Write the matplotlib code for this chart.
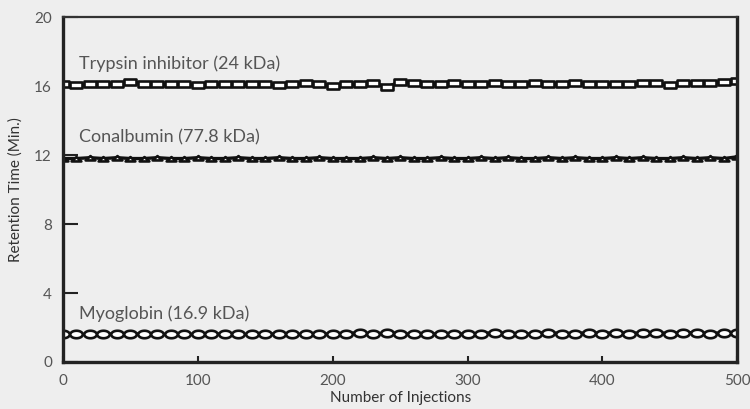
import matplotlib
matplotlib.use('Agg')
import matplotlib.pyplot as plt
from matplotlib.path import Path
import numpy as np

# injections, sampled every 10
injections = list(range(0, 501, 10))

trypsin = [16.1, 16.05, 16.1, 16.1, 16.15, 16.25, 16.15, 16.1, 16.1, 16.1,
           16.05, 16.1, 16.1, 16.1, 16.1, 16.1, 16.05, 16.1, 16.2, 16.15,
           16.0, 16.1, 16.1, 16.2, 15.95, 16.25, 16.2, 16.15, 16.15, 16.2,
           16.1, 16.15, 16.2, 16.15, 16.15, 16.2, 16.1, 16.15, 16.2, 16.15,
           16.1, 16.15, 16.1, 16.2, 16.2, 16.05, 16.2, 16.2, 16.2, 16.25, 16.3]
conalbumin = [11.8, 11.8, 11.85, 11.8, 11.85, 11.8, 11.8, 11.85, 11.8, 11.8,
              11.85, 11.8, 11.8, 11.85, 11.8, 11.8, 11.85, 11.8, 11.8, 11.85,
              11.8, 11.8, 11.8, 11.85, 11.8, 11.85, 11.8, 11.8, 11.85, 11.8,
              11.8, 11.85, 11.8, 11.85, 11.8, 11.8, 11.85, 11.8, 11.85, 11.8,
              11.8, 11.85, 11.8, 11.85, 11.8, 11.8, 11.85, 11.8, 11.85, 11.8, 11.9]
myoglobin = [1.6, 1.6, 1.6, 1.65, 1.6, 1.6, 1.65, 1.6, 1.6, 1.6,
             1.6, 1.65, 1.6, 1.6, 1.6, 1.65, 1.6, 1.6, 1.6, 1.65,
             1.6, 1.65, 1.7, 1.6, 1.7, 1.65, 1.6, 1.65, 1.6, 1.65,
             1.6, 1.65, 1.7, 1.65, 1.6, 1.65, 1.7, 1.65, 1.65, 1.7,
             1.65, 1.7, 1.65, 1.7, 1.7, 1.65, 1.7, 1.7, 1.65, 1.7, 1.7]

labels = ['Trypsin inhibitor (24 kDa)', 'Conalbumin (77.8 kDa)', 'Myoglobin (16.9 kDa)']
label_y = [17.3, 13.0, 2.8]

bg = '#eeeeee'
txt = '#555555'

plt.rcParams['font.family'] = ['Lato', 'DejaVu Sans']

# wide rectangle, flattened ellipse and low triangle markers
rect = Path([(-1, -0.55), (1, -0.55), (1, 0.55), (-1, 0.55), (-1, -0.55)],
            [Path.MOVETO, Path.LINETO, Path.LINETO, Path.LINETO, Path.CLOSEPOLY])
th = np.linspace(0, 2 * np.pi, 40)
ellipse = Path(np.column_stack([np.cos(th), 0.6 * np.sin(th)]), closed=True)
tri = Path([(-1, -0.4), (0, 0.5), (1, -0.4), (-1, -0.4)],
           [Path.MOVETO, Path.LINETO, Path.LINETO, Path.CLOSEPOLY])

fig = plt.figure(figsize=(7.5, 4.09), dpi=100, facecolor=bg)
ax = fig.add_axes([0.084, 0.115, 0.899, 0.843], facecolor=bg)

common = dict(color='#111111', lw=2.4, mfc='white', mec='#111111', mew=1.9)
ax.plot(injections, trypsin, marker=rect, ms=9, **common)
ax.plot(injections, conalbumin, marker=tri, ms=7, **common)
ax.plot(injections, myoglobin, marker=ellipse, ms=9, **common)

for lab, y in zip(labels, label_y):
    ax.text(12, y, lab, fontsize=13, color=txt, va='center', ha='left')

ax.set_xlim(0, 500)
ax.set_ylim(0, 20)
ax.set_xticks([0, 100, 200, 300, 400, 500])
ax.set_yticks([0, 4, 8, 12, 16, 20])
ax.tick_params(axis='y', direction='in', length=11, width=1.5, color='#222222',
               labelsize=11, labelcolor=txt, pad=8)
ax.tick_params(axis='x', direction='in', length=4, width=1.5, color='#222222',
               labelsize=11, labelcolor=txt, pad=9)

for side in ['left', 'bottom', 'right']:
    ax.spines[side].set_linewidth(2.4)
    ax.spines[side].set_color('#222222')
ax.spines['top'].set_linewidth(1.6)
ax.spines['top'].set_color('#333333')

ax.set_xlabel('Number of Injections', fontsize=11, color='#333333', labelpad=2)
ax.set_ylabel('Retention Time (Min.)', fontsize=11, color='#333333', labelpad=8)

fig.savefig('out.png', dpi=100, facecolor=bg)
